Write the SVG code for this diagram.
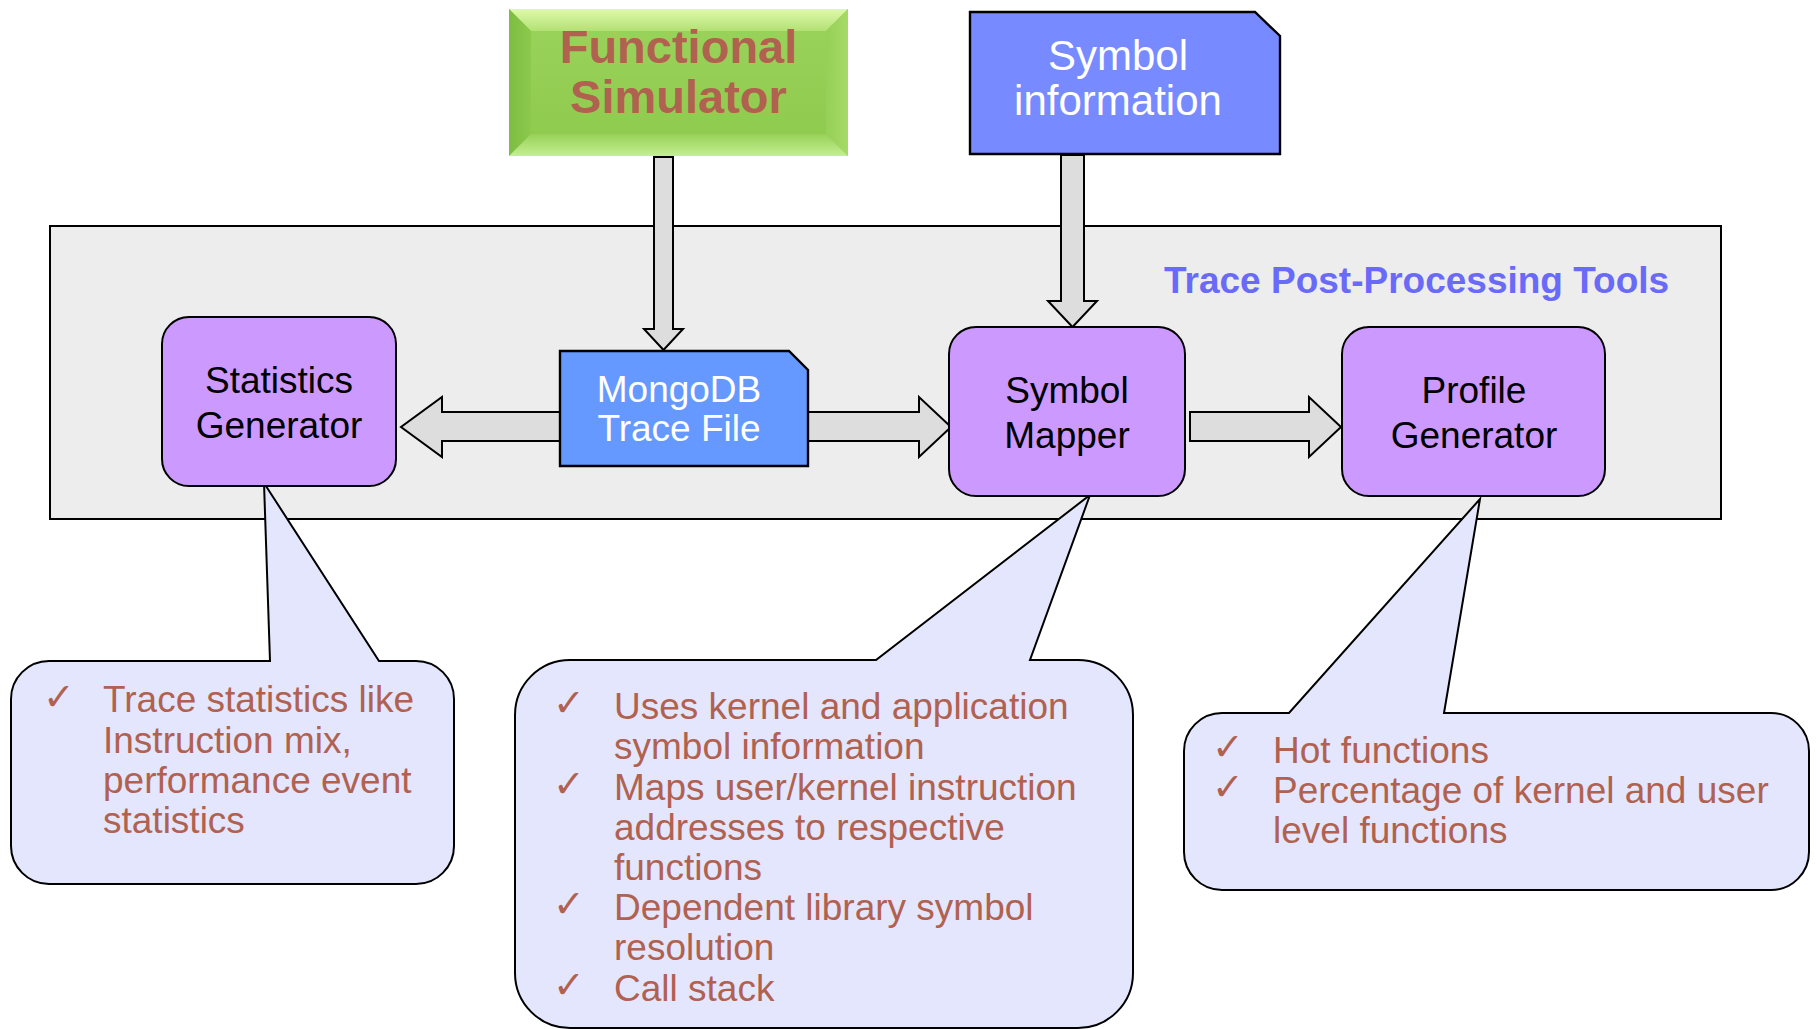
<svg xmlns="http://www.w3.org/2000/svg" width="1816" height="1029" viewBox="0 0 1816 1029">
  <style>
    .frame { fill: #ededed; stroke: #000; stroke-width: 2; }
    .arrow { fill: #dddddd; stroke: #000; stroke-width: 2; stroke-linejoin: miter; }
    .tool { fill: #cc99ff; stroke: #000; stroke-width: 2; }
    .callout { fill: #e3e6fc; stroke: #000; stroke-width: 2; stroke-linejoin: miter; }
    .doc { stroke: #000; stroke-width: 2.4; }
    .lbl { font-family: "Liberation Sans", Arial, Helvetica, sans-serif; font-size: 37px; text-anchor: middle; }
    .big { font-size: 47px; font-weight: bold; fill: #b16150; }
    .info { font-size: 42px; fill: #ffffff; }
    .note { font-family: "Liberation Sans", Arial, Helvetica, sans-serif; font-size: 37px; fill: #b16150; }
    .tick { font-family: "DejaVu Sans", sans-serif; font-size: 38px; fill: #b16150; }
  </style>
  <defs>
    <linearGradient id="bevelTop" x1="0" y1="0" x2="0" y2="1">
      <stop offset="0" stop-color="#dff9ad"/>
      <stop offset="1" stop-color="#b2e173"/>
    </linearGradient>
    <linearGradient id="bevelLeft" x1="0" y1="0" x2="1" y2="0">
      <stop offset="0" stop-color="#7dbd42"/>
      <stop offset="1" stop-color="#8cc94d"/>
    </linearGradient>
    <linearGradient id="bevelRight" x1="0" y1="0" x2="1" y2="0">
      <stop offset="0" stop-color="#96d057"/>
      <stop offset="1" stop-color="#a6da68"/>
    </linearGradient>
    <linearGradient id="bevelBottom" x1="0" y1="0" x2="0" y2="1">
      <stop offset="0" stop-color="#98d159"/>
      <stop offset="1" stop-color="#c4ef92"/>
    </linearGradient>
    <linearGradient id="faceGreen" x1="0" y1="0" x2="0" y2="1">
      <stop offset="0" stop-color="#9bd35c"/>
      <stop offset="1" stop-color="#8dca4c"/>
    </linearGradient>
  </defs>

  <!-- enclosing tool area -->
  <g id="post-processing-area">
    <rect class="frame" x="50" y="226" width="1671" height="293"/>
    <text x="1164" y="293" font-family="'Liberation Sans', Arial, sans-serif" font-size="37" font-weight="bold" fill="#6a6af8">Trace Post-Processing Tools</text>
  </g>

  <!-- block arrows -->
  <g id="connectors">
    <polygon class="arrow" points="654,157 673,157 673,329 683,329 663.5,350 644,329 654,329"/>
    <polygon class="arrow" points="1061,155 1084,155 1084,301 1097,301 1072.5,327 1048,301 1061,301"/>
    <polygon class="arrow" points="560,412 442,412 442,397 401,427 442,457 442,441 560,441"/>
    <polygon class="arrow" points="808,412 919,412 919,397 951,427 919,457 919,441 808,441"/>
    <polygon class="arrow" points="1190,412 1309,412 1309,397 1341,427 1309,457 1309,441 1190,441"/>
  </g>

  <!-- callouts -->
  <g id="callout-statistics">
    <path class="callout" d="M49,661 L270,661 L264,483 L379,661 L416,661 A38,38 0 0 1 454,699 L454,846 A38,38 0 0 1 416,884 L49,884 A38,38 0 0 1 11,846 L11,699 A38,38 0 0 1 49,661 Z"/>
    <text class="tick" x="43" y="710">✓</text>
    <text class="note" x="103" y="712">Trace statistics like</text>
    <text class="note" x="103" y="753">Instruction mix,</text>
    <text class="note" x="103" y="793">performance event</text>
    <text class="note" x="103" y="833">statistics</text>
  </g>

  <g id="callout-mapper">
    <path class="callout" d="M570,660 L876,660 L1090,495 L1030,660 L1078,660 A55,55 0 0 1 1133,715 L1133,973 A55,55 0 0 1 1078,1028 L570,1028 A55,55 0 0 1 515,973 L515,715 A55,55 0 0 1 570,660 Z"/>
    <text class="tick" x="553" y="716">✓</text>
    <text class="tick" x="553" y="797">✓</text>
    <text class="tick" x="553" y="917">✓</text>
    <text class="tick" x="553" y="998">✓</text>
    <text class="note" x="614" y="719">Uses kernel and application</text>
    <text class="note" x="614" y="759">symbol information</text>
    <text class="note" x="614" y="800">Maps user/kernel instruction</text>
    <text class="note" x="614" y="840">addresses to respective</text>
    <text class="note" x="614" y="880">functions</text>
    <text class="note" x="614" y="920">Dependent library symbol</text>
    <text class="note" x="614" y="960">resolution</text>
    <text class="note" x="614" y="1001">Call stack</text>
  </g>

  <g id="callout-profile">
    <path class="callout" d="M1222,713 L1289,713 L1480,499 L1444,713 L1771,713 A38,38 0 0 1 1809,751 L1809,852 A38,38 0 0 1 1771,890 L1222,890 A38,38 0 0 1 1184,852 L1184,751 A38,38 0 0 1 1222,713 Z"/>
    <text class="tick" x="1212" y="760">✓</text>
    <text class="tick" x="1212" y="800">✓</text>
    <text class="note" x="1273" y="763">Hot functions</text>
    <text class="note" x="1273" y="803">Percentage of kernel and user</text>
    <text class="note" x="1273" y="843">level functions</text>
  </g>

  <!-- inputs -->
  <g id="functional-simulator">
    <rect x="509" y="9" width="339" height="147" fill="url(#faceGreen)"/>
    <path d="M509,9 L848,9 L826,31 L531,31 Z" fill="url(#bevelTop)"/>
    <path d="M509,9 L531,31 L531,134 L509,156 Z" fill="url(#bevelLeft)"/>
    <path d="M848,9 L848,156 L826,134 L826,31 Z" fill="url(#bevelRight)"/>
    <path d="M509,156 L531,134 L826,134 L848,156 Z" fill="url(#bevelBottom)"/>
    <text class="lbl big" x="678.5" y="63">Functional</text>
    <text class="lbl big" x="678.5" y="113">Simulator</text>
  </g>

  <g id="symbol-information">
    <path class="doc" fill="#788aff" d="M970,12 L1255,12 L1280,36 L1280,154 L970,154 Z"/>
    <text class="lbl info" x="1118" y="70">Symbol</text>
    <text class="lbl info" x="1118" y="115">information</text>
  </g>

  <!-- tools -->
  <g id="mongodb-trace-file">
    <path class="doc" fill="#6699ff" d="M560,351 L789,351 L808,370 L808,466 L560,466 Z"/>
    <text class="lbl" x="679" y="402" fill="#ffffff">MongoDB</text>
    <text class="lbl" x="679" y="441" fill="#ffffff">Trace File</text>
  </g>

  <g id="statistics-generator">
    <rect class="tool" x="162" y="317" width="234" height="169" rx="27" ry="27"/>
    <text class="lbl" x="279" y="393" fill="#000">Statistics</text>
    <text class="lbl" x="279" y="438" fill="#000">Generator</text>
  </g>

  <g id="symbol-mapper">
    <rect class="tool" x="949" y="327" width="236" height="169" rx="27" ry="27"/>
    <text class="lbl" x="1067" y="403" fill="#000">Symbol</text>
    <text class="lbl" x="1067" y="448" fill="#000">Mapper</text>
  </g>

  <g id="profile-generator">
    <rect class="tool" x="1342" y="327" width="263" height="169" rx="27" ry="27"/>
    <text class="lbl" x="1474" y="403" fill="#000">Profile</text>
    <text class="lbl" x="1474" y="448" fill="#000">Generator</text>
  </g>
</svg>
